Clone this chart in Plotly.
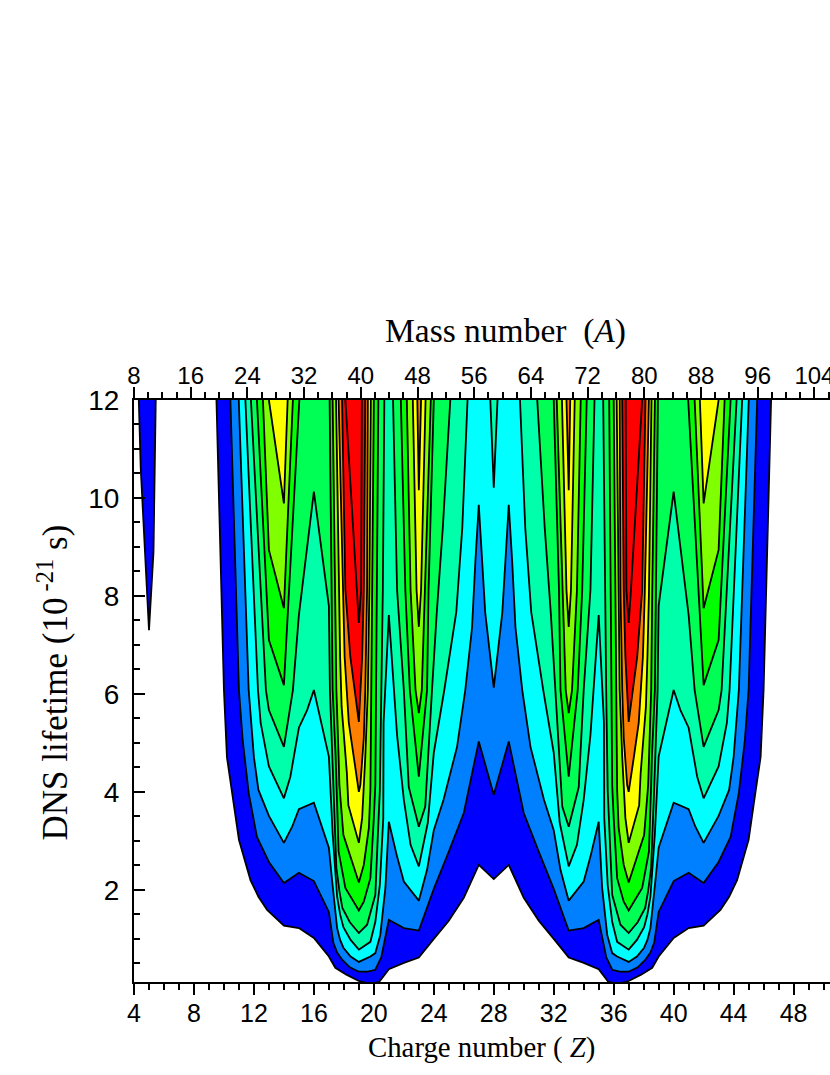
"""DNS lifetime contour map in the (Z, t) plane, with the mass number on top."""
from plotly import graph_objects as go

# Each level is a list of closed regions; a region is the (Z, lifetime) path of
# one contour line. The band above the line is filled.
level_1 = [
    [(4.32, 12), (4.45, 10.6), (4.8, 8.5), (5, 7.3), (5.3, 8.9), (5.45, 12)],
    [(9.5, 12), (10, 6.08), (10.2, 4.71), (10.55, 3.98), (11, 3.02), (11.77, 2.2), (12.3, 1.86),
     (12.88, 1.59), (14, 1.27), (15, 1.22), (16, 1.02), (17, 0.64), (17.43, 0.41), (18.17, 0.27),
     (19, 0.14), (19.5, 0.1), (20, 0.1), (20.35, 0.12), (21, 0.38), (22, 0.51), (23, 0.62),
     (24, 1.0), (25, 1.37), (26, 1.84), (27, 2.51), (28, 2.22), (29, 2.51), (30, 1.84),
     (31, 1.37), (32, 1.0), (33, 0.62), (34, 0.51), (35, 0.38), (35.65, 0.12), (36, 0.1),
     (36.5, 0.1), (37, 0.14), (37.83, 0.27), (38.57, 0.41), (39, 0.64), (40, 1.02), (41, 1.22),
     (42, 1.27), (43.12, 1.59), (43.7, 1.86), (44.23, 2.2), (45, 3.02), (45.45, 3.98),
     (45.8, 4.71), (46, 6.08), (46.5, 12)],
]
level_2 = [
    [(10.43, 12), (11, 6.08), (11.25, 5.06), (11.65, 3.98), (12.2, 3.08), (13, 2.57), (14, 2.14),
     (15, 2.35), (16, 2.18), (17, 1.55), (17.3, 0.92), (17.55, 0.72), (17.9, 0.57), (18.4, 0.42),
     (19, 0.33), (19.6, 0.33), (20.1, 0.37), (20.5, 0.63), (21, 1.39), (22, 1.22), (23, 1.17),
     (24, 2.02), (25, 2.78), (26, 3.57), (27, 5.03), (28, 3.94), (29, 5.03), (30, 3.57), (31, 2.78),
     (32, 2.02), (33, 1.17), (34, 1.22), (35, 1.39), (35.5, 0.63), (35.9, 0.37), (36.4, 0.33),
     (37, 0.33), (37.6, 0.42), (38.1, 0.57), (38.45, 0.72), (38.7, 0.92), (39, 1.55), (40, 2.18),
     (41, 2.35), (42, 2.14), (43, 2.57), (43.8, 3.08), (44.35, 3.98), (44.75, 5.06), (45, 6.08),
     (45.57, 12)],
]
level_3 = [
    [(10.99, 12), (11.65, 6.08), (12, 4.71), (12.3, 4.04), (13, 3.51), (14, 2.96), (14.55, 3.29),
     (15, 3.65), (16, 3.78), (17, 2.86), (17.2, 2.24), (17.55, 1.22), (17.75, 0.98), (17.97, 0.82),
     (18.45, 0.64), (19, 0.53), (19.77, 0.64), (20.1, 0.71), (20.43, 1.08), (20.77, 2.04), (21, 3.39),
     (21.55, 2.68), (22, 2.17), (23, 1.78), (23.55, 2.41), (24, 3.22), (24.65, 3.84), (25.55, 4.92),
     (26.1, 6.08), (26.55, 7.35), (26.77, 8.69), (27, 9.86), (27.43, 7.66), (28, 6.13),
     (28.57, 7.66), (29, 9.86), (29.23, 8.69), (29.45, 7.35), (29.9, 6.08), (30.45, 4.92),
     (31.35, 3.84), (32, 3.22), (32.45, 2.41), (33, 1.78), (34, 2.17), (34.45, 2.68), (35, 3.39),
     (35.23, 2.04), (35.57, 1.08), (35.9, 0.71), (36.23, 0.64), (37, 0.53), (37.55, 0.64),
     (38.03, 0.82), (38.25, 0.98), (38.45, 1.22), (38.8, 2.24), (39, 2.86), (40, 3.78), (41, 3.65),
     (41.45, 3.29), (42, 2.96), (43, 3.51), (43.7, 4.04), (44, 4.71), (44.35, 6.08), (45.01, 12)],
]
level_4 = [
    [(11.43, 12), (12.27, 6.08), (12.45, 5.41), (13, 4.52), (14, 3.87), (14.43, 4.31), (15, 5.31),
     (15.55, 5.67), (16, 6.08), (17, 4.72), (17.25, 3.16), (17.55, 1.86), (17.75, 1.5), (17.97, 1.24),
     (18.45, 0.98), (19, 0.78), (19.77, 0.94), (20.1, 1.35), (20.4, 2.1), (20.63, 3.47), (20.65, 5.41),
     (21, 7.61), (21.55, 5.16), (22, 3.84), (22.45, 2.92), (23, 2.48), (23.6, 3.37), (24, 4.8),
     (24.7, 6.08), (25.5, 7.67), (25.9, 9.39), (26.25, 12)],
    [(27.77, 12), (28, 10.21), (28.25, 12)],
    [(29.75, 12), (30.1, 9.39), (30.5, 7.67), (31.3, 6.08), (32, 4.8), (32.4, 3.37), (33, 2.48),
     (33.55, 2.92), (34, 3.84), (34.45, 5.16), (35, 7.61), (35.35, 5.41), (35.37, 3.47), (35.6, 2.1),
     (35.9, 1.35), (36.23, 0.94), (37, 0.78), (37.55, 0.98), (38.03, 1.24), (38.25, 1.5), (38.45, 1.86),
     (38.75, 3.16), (39, 4.72), (40, 6.08), (40.45, 5.67), (41, 5.31), (41.57, 4.31), (42, 3.87),
     (43, 4.52), (43.55, 5.41), (43.73, 6.08), (44.57, 12)],
]
level_5 = [
    [(11.8, 12), (12.8, 6.08), (13, 5.67), (14, 4.92), (14.6, 6.08), (15, 7.61), (16, 10.13), (17, 7.8),
     (17.07, 6.08), (17.3, 4.04), (17.5, 2.45), (17.7, 1.98), (17.9, 1.63), (18.4, 1.34), (19, 1.12),
     (19.55, 1.29), (20.1, 1.9), (20.25, 2.99), (20.4, 4.03), (20.5, 6.08), (20.6, 8.12), (20.7, 12)],
    [(21.28, 12), (21.55, 8.12), (22, 6.08), (22.33, 4.1), (23, 3.29), (23.43, 3.7), (23.88, 6.08),
     (24.2, 7.67), (24.6, 9.39), (25.1, 12)],
    [(30.9, 12), (31.4, 9.39), (31.8, 7.67), (32.12, 6.08), (32.57, 3.7), (33, 3.29), (33.67, 4.1),
     (34, 6.08), (34.45, 8.12), (34.72, 12)],
    [(35.3, 12), (35.4, 8.12), (35.5, 6.08), (35.6, 4.03), (35.75, 2.99), (35.9, 1.9), (36.45, 1.29),
     (37, 1.12), (37.6, 1.34), (38.1, 1.63), (38.3, 1.98), (38.5, 2.45), (38.7, 4.04), (38.93, 6.08),
     (39, 7.8), (40, 10.13), (41, 7.61), (41.4, 6.08), (42, 4.92), (43, 5.67), (43.2, 6.08), (44.2, 12)],
]
level_6 = [
    [(12.2, 12), (13, 7.1), (14, 6.18), (15.03, 12)],
    [(17.05, 12), (17.2, 8.02), (17.25, 6.08), (17.45, 4.72), (17.5, 4.14), (17.65, 2.78), (18.1, 2.04),
     (19, 1.58), (19.33, 1.76), (19.77, 2.24), (20, 3.47), (20.1, 4.14), (20.2, 8.12), (20.3, 12)],
    [(21.8, 12), (22.1, 8.12), (22.4, 6.08), (23, 4.31), (23.55, 6.08), (23.65, 8.12), (24, 12)],
    [(32, 12), (32.35, 8.12), (32.45, 6.08), (33, 4.31), (33.6, 6.08), (33.9, 8.12), (34.2, 12)],
    [(35.7, 12), (35.8, 8.12), (35.9, 4.14), (36, 3.47), (36.23, 2.24), (36.67, 1.76), (37, 1.58),
     (37.9, 2.04), (38.35, 2.78), (38.5, 4.14), (38.55, 4.72), (38.75, 6.08), (38.8, 8.02), (38.95, 12)],
    [(40.97, 12), (42, 6.18), (43, 7.1), (43.8, 12)],
]
level_7 = [
    [(12.6, 12), (13, 8.94), (14, 7.75), (14.6, 12)],
    [(17.25, 12), (17.43, 8.02), (17.5, 6.08), (17.65, 4.72), (17.7, 4.14), (17.97, 3.12), (19, 2.15),
     (19.33, 2.51), (19.67, 3.27), (19.77, 4.04), (19.82, 6.08), (19.9, 8.12), (20, 12)],
    [(22.2, 12), (22.45, 8.12), (22.78, 6.08), (23, 5.61), (23.2, 6.08), (23.4, 8.12), (23.8, 12)],
    [(32.2, 12), (32.6, 8.12), (32.8, 6.08), (33, 5.61), (33.22, 6.08), (33.55, 8.12), (33.8, 12)],
    [(36, 12), (36.1, 8.12), (36.18, 6.08), (36.23, 4.04), (36.33, 3.27), (36.67, 2.51), (37, 2.15),
     (38.03, 3.12), (38.3, 4.14), (38.35, 4.72), (38.5, 6.08), (38.57, 8.02), (38.75, 12)],
    [(41.4, 12), (42, 7.75), (43, 8.94), (43.4, 12)],
]
level_8 = [
    [(13, 12), (14, 9.89), (14.25, 12)],
    [(17.48, 12), (17.65, 8.02), (17.75, 6.76), (17.85, 5.74), (18.2, 4.39), (18.3, 3.73), (19, 2.96),
     (19.22, 3.47), (19.33, 4.04), (19.43, 4.72), (19.6, 6.08), (19.7, 8.12), (19.8, 12)],
    [(22.6, 12), (22.85, 8.12), (23, 7.37), (23.15, 8.12), (23.45, 12)],
    [(32.55, 12), (32.85, 8.12), (33, 7.37), (33.15, 8.12), (33.4, 12)],
    [(36.2, 12), (36.3, 8.12), (36.4, 6.08), (36.57, 4.72), (36.67, 4.04), (36.78, 3.47), (37, 2.96),
     (37.7, 3.73), (37.8, 4.39), (38.15, 5.74), (38.25, 6.76), (38.35, 8.02), (38.52, 12)],
    [(41.75, 12), (42, 9.89), (43, 12)],
]
level_9 = [
    [(17.65, 12), (17.93, 8.02), (18.05, 6.76), (18.33, 5.41), (18.65, 4.72), (19, 4.0), (19.1, 4.14),
     (19.33, 5.1), (19.43, 6.08), (19.55, 8.12), (19.6, 12)],
    [(22.9, 12), (23, 10.16), (23.15, 12)],
    [(32.85, 12), (33, 10.16), (33.1, 12)],
    [(36.4, 12), (36.45, 8.12), (36.57, 6.08), (36.67, 5.1), (36.9, 4.14), (37, 4.0), (37.35, 4.72),
     (37.67, 5.41), (37.95, 6.76), (38.07, 8.02), (38.35, 12)],
]
level_10 = [
    [(17.88, 12), (18.1, 8.12), (18.43, 6.76), (19, 5.43), (19.22, 6.76), (19.33, 8.12), (19.43, 12)],
    [(36.57, 12), (36.67, 8.12), (36.78, 6.76), (37, 5.43), (37.57, 6.76), (37.9, 8.12), (38.12, 12)],
]
level_11 = [
    [(18.1, 12), (18.87, 8.02), (19, 7.45), (19.15, 8.12), (19.2, 12)],
    [(36.8, 12), (36.85, 8.12), (37, 7.45), (37.13, 8.02), (37.9, 12)],
]

levels = [level_1, level_2, level_3, level_4, level_5, level_6,
          level_7, level_8, level_9, level_10, level_11]
level_colors = ["#0000FF", "#0080FF", "#00FFFF", "#00FFAA", "#00FF55", "#00FF00",
                "#80FF00", "#FFFF00", "#FF8000", "#FF0000", "#FF0000"]

charge_ticks = [4, 8, 12, 16, 20, 24, 28, 32, 36, 40, 44, 48]
mass_ticks = [8, 16, 24, 32, 40, 48, 56, 64, 72, 80, 88, 96, 104]
lifetime_ticks = [2, 4, 6, 8, 10, 12]

SERIF = "Liberation Serif"
SANS = "Liberation Sans"

# plot area in page pixels: the axes run off the right edge of the page
PLOT_LEFT, PLOT_TOP, PLOT_BOTTOM = 133.5, 400, 982
PLOT_W, PLOT_H = 830 - PLOT_LEFT, PLOT_BOTTOM - PLOT_TOP


def _region_xy(regions):
    xs, ys = [], []
    for region in regions:
        xs += [p[0] for p in region] + [None]
        ys += [p[1] for p in region] + [None]
    return xs, ys


def _axis_style(size, ticks, standoff):
    return {
        "ticks": ticks, "ticklen": 11, "tickwidth": 2, "tickcolor": "black",
        "linewidth": 2, "linecolor": "black", "showline": True,
        "showgrid": False, "zeroline": False, "ticklabelstandoff": standoff,
        "ticklabeloverflow": "allow",
        "tickfont": {"family": SANS, "size": size, "color": "black"},
    }


def _minor(step, start, ticks):
    return {"dtick": step, "tick0": start, "ticks": ticks, "ticklen": 6,
            "tickwidth": 2, "tickcolor": "black", "showgrid": False}


def _text(label, x_px, y_px, size, angle=0):
    fig.add_annotation(
        text=label, x=(x_px - PLOT_LEFT) / PLOT_W, y=(PLOT_BOTTOM - y_px) / PLOT_H,
        xref="paper", yref="paper", xanchor="center", yanchor="middle",
        showarrow=False, textangle=angle,
        font={"family": SERIF, "size": size, "color": "black"},
    )


fig = go.Figure()
for regions, color in zip(levels, level_colors):
    xs, ys = _region_xy(regions)
    fig.add_trace(go.Scatter(
        x=xs, y=ys, mode="lines", fill="toself", fillcolor=color,
        line={"color": "black", "width": 1.8}, showlegend=False, hoverinfo="skip",
    ))
# the top axis only shows up if something is attached to it
fig.add_trace(go.Scatter(
    x=mass_ticks, y=[12] * len(mass_ticks), xaxis="x2", mode="markers",
    marker={"opacity": 0}, showlegend=False, hoverinfo="skip",
))

fig.update_layout(
    width=830, height=1075,
    # no autoexpand: the "104" label hangs over the page edge and must not shrink the plot
    margin={"l": PLOT_LEFT, "r": 0, "t": PLOT_TOP, "b": 1075 - PLOT_BOTTOM, "autoexpand": False},
    plot_bgcolor="white", paper_bgcolor="white",
    xaxis={"range": [4, 50.43], "tickvals": charge_ticks,
           "minor": _minor(1, 4, "outside"), **_axis_style(25, "outside", -3)},
    xaxis2={"range": [8, 106.2], "overlaying": "x", "side": "top", "anchor": "y",
            "tickvals": mass_ticks, "minor": _minor(2, 8, "outside"),
            **_axis_style(24, "outside", -7)},
    yaxis={"range": [0.12, 12], "tickvals": lifetime_ticks,
           "minor": _minor(0.5, 0, "inside"), **_axis_style(28, "inside", 7)},
)
_text("Mass number  (<i>A</i>)", 505, 331, 33.5)
_text("Charge number ( <i>Z</i>)", 481, 1047, 28.8)
_text("DNS lifetime (10<sup> -21</sup> s)", 52, 683, 35, angle=-90)

# drop the browser's default body margin so the figure sits at the page origin
fig.write_html("out.html", config={"displayModeBar": False},
               post_script="document.body.style.margin = '0';")
